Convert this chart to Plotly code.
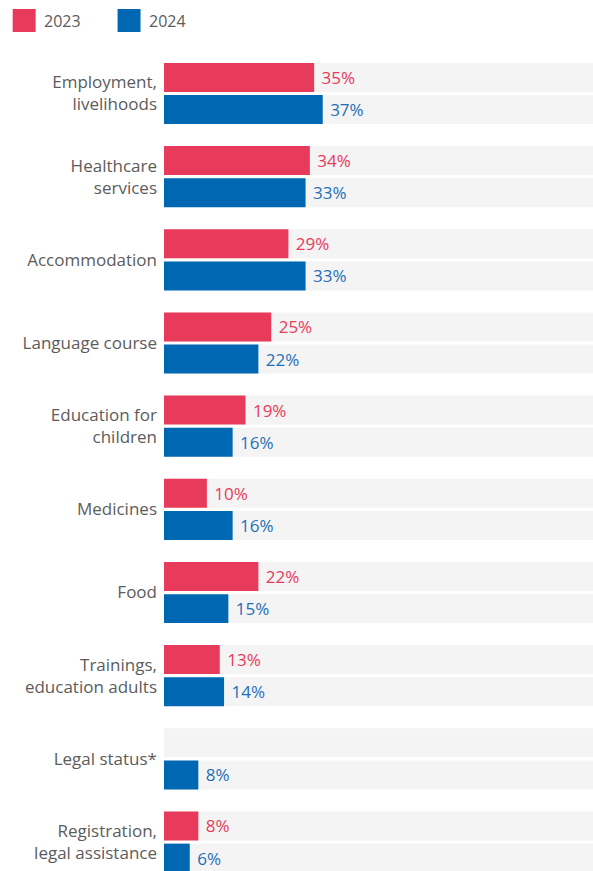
import plotly.graph_objects as go

categories = [
    "Employment,<br>livelihoods",
    "Healthcare<br>services",
    "Accommodation",
    "Language course",
    "Education for<br>children",
    "Medicines",
    "Food",
    "Trainings,<br>education adults",
    "Legal status*",
    "Registration,<br>legal assistance",
]
values_2023 = [35, 34, 29, 25, 19, 10, 22, 13, None, 8]
values_2024 = [37, 33, 33, 22, 16, 16, 15, 14, 8, 6]
series_names = ["2023", "2024"]
full_scale = [100] * len(categories)

RED = "#E83A5A"
BLUE = "#0068B3"
BLUE_TEXT = "#1E6FB8"
TRACK = "#F4F4F4"
LABEL = "#5C5C5C"
FONT = "Open Sans"

W, H = 593, 871
LEFT = 163.5
PITCH = 83.17          # px between category rows
FIRST_CENTER = 93.5    # px from top to centre of first row

fig = go.Figure()

# grey tracks behind each bar, sharing the offset slot of its series
for name in series_names:
    fig.add_trace(go.Bar(
        y=categories, x=full_scale, orientation="h",
        offsetgroup=name, marker=dict(color=TRACK, line=dict(width=0)),
        showlegend=False, hoverinfo="skip",
    ))

for name, vals, col, tcol in [
    ("2023", values_2023, RED, RED),
    ("2024", values_2024, BLUE, BLUE_TEXT),
]:
    fig.add_trace(go.Bar(
        y=categories, x=vals, orientation="h", name=name,
        offsetgroup=name, marker=dict(color=col, line=dict(width=0)),
        text=[f" {v}%" if v is not None else "" for v in vals],
        textposition="outside", cliponaxis=False,
        textfont=dict(family=FONT, size=17, color=tcol),
        showlegend=False,
    ))

y_top = -FIRST_CENTER / PITCH
y_bottom = (H - FIRST_CENTER) / PITCH

fig.update_layout(
    width=W, height=H,
    margin=dict(l=LEFT, r=0, t=0, b=0),
    paper_bgcolor="white", plot_bgcolor="white",
    barmode="group", bargap=0.226, bargroupgap=0.1,
    showlegend=False,
    xaxis=dict(range=[0, 100], visible=False, fixedrange=True),
    yaxis=dict(
        type="category", categoryorder="array", categoryarray=categories,
        range=[y_bottom, y_top], showgrid=False, zeroline=False,
        showline=False, ticks="", ticklabelstandoff=6,
        tickfont=dict(family=FONT, size=17, color=LABEL),
    ),
    font=dict(family=FONT),
)

# legend swatches and labels drawn at the top-left
def px_x(p):
    return (p - LEFT) / (W - LEFT)

def px_y(p):
    return 1 - p / H

for (x0, name, col) in [(12, "2023", RED), (117, "2024", BLUE)]:
    fig.add_shape(type="rect", xref="paper", yref="paper",
                  x0=px_x(x0), x1=px_x(x0 + 23), y0=px_y(32), y1=px_y(9),
                  fillcolor=col, line=dict(width=0), layer="above")
    fig.add_annotation(xref="paper", yref="paper", x=px_x(x0 + 29), y=px_y(20.5),
                       xanchor="left", yanchor="middle", showarrow=False,
                       text=name, font=dict(family=FONT, size=16, color=LABEL))

fig.write_html("out.html")
